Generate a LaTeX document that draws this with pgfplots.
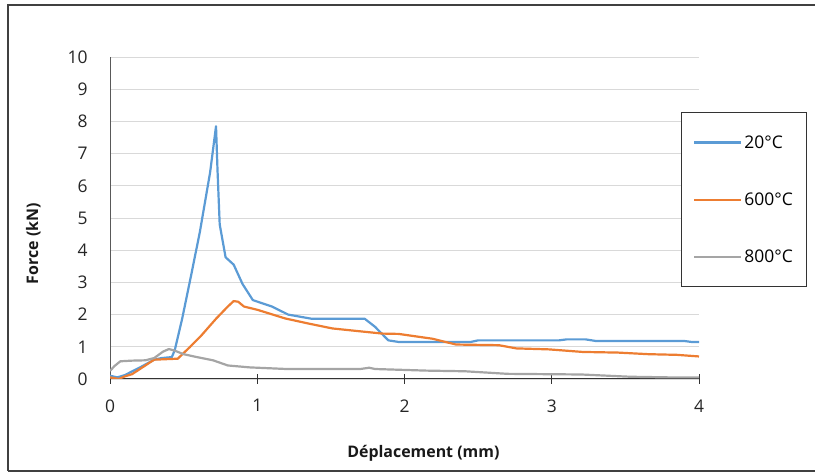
\documentclass[border=0pt]{standalone}
\usepackage{pgfplots}
\pgfplotsset{compat=1.18}
\usepackage{fontspec}
\setmainfont{Open Sans}
\definecolor{cblue}{HTML}{5B9BD5}
\definecolor{corange}{HTML}{ED7D31}
\definecolor{cgray}{HTML}{A5A5A5}
\definecolor{cgrid}{HTML}{D9D9D9}
\definecolor{caxis}{HTML}{595959}
\begin{document}
\begin{tikzpicture}[x=1bp,y=1bp]
\useasboundingbox (0,0) rectangle (815,472);
\draw[line width=1.2bp, color=black!75] (8,1) -- (8,467) -- (815,467);
\draw[line width=1.2bp, color=black!75] (8,1) -- (815,1);
\begin{axis}[
  at={(110bp,93bp)}, anchor=south west,
  scale only axis, width=589bp, height=322bp,
  xmin=0, xmax=4, ymin=0, ymax=10,
  xtick={0,1,2,3,4}, ytick={0,1,...,10},
  axis x line=bottom, axis y line=left,
  axis line style={-, color=caxis, line width=1bp},
  x axis line style={color=black!80},
  ymajorgrids, grid style={color=cgrid, line width=0.9bp},
  tick align=center, major tick length=10bp,
  xtick style={color=black!80, line width=0.9bp},
  ytick style={draw=none},
  tick label style={font=\fontsize{17.5}{20}\selectfont, color=black!85},
  /pgf/number format/assume math mode=true,
  yticklabel style={xshift=-14bp},
  xticklabel style={yshift=-12bp},
  xlabel={\bfseries Déplacement (mm)},
  ylabel={\bfseries Force (kN)},
  label style={font=\fontsize{16}{18}\selectfont, color=black!90},
  xlabel style={at={(axis description cs:0.532,-0.232)}, anchor=center},
  ylabel style={at={(axis description cs:-0.13,0.42)}, anchor=center},
  legend style={at={(0.969,0.829)}, anchor=north west, draw=black!80,
    line width=0.9bp, inner xsep=12bp, inner ysep=21bp,
    font=\fontsize{17.5}{20}\selectfont, row sep=39bp, cells={anchor=west}},
  legend image code/.code={\draw[#1, line width=2.2bp] (0,0) -- (47bp,0);},
  every axis plot/.append style={line width=2.2bp, line join=round},
]
\addplot[cblue] coordinates {
(0,0.1) (0.05,0.05) (0.1,0.12) (0.2,0.35) (0.3,0.6) (0.35,0.65) (0.42,0.68)
(0.44,0.9) (0.49,1.87) (0.55,3.2) (0.61,4.56) (0.68,6.42) (0.72,7.85)
(0.73,6.5) (0.745,4.8) (0.785,3.78) (0.84,3.55) (0.9,2.95) (0.97,2.45)
(1.1,2.25) (1.21,2.0) (1.37,1.87) (1.73,1.87) (1.8,1.62) (1.89,1.2)
(1.96,1.15) (2.3,1.15) (2.45,1.15) (2.5,1.2) (3.05,1.2) (3.1,1.23)
(3.23,1.23) (3.3,1.18) (3.9,1.18) (3.95,1.15) (4.0,1.15)};
\addlegendentry{20°C}
\addplot[corange] coordinates {
(0,0.05) (0.06,0.0) (0.1,0.08) (0.15,0.15) (0.2,0.3) (0.3,0.6) (0.46,0.63)
(0.54,0.98) (0.62,1.35) (0.72,1.87) (0.8,2.25) (0.84,2.42) (0.87,2.4)
(0.91,2.25) (1.0,2.15) (1.19,1.88) (1.35,1.72) (1.51,1.57) (1.7,1.48)
(1.85,1.41) (1.96,1.40) (2.19,1.25) (2.35,1.07) (2.64,1.05) (2.76,0.95)
(2.98,0.92) (3.21,0.84) (3.45,0.82) (3.66,0.77) (3.85,0.75) (4.0,0.70)};
\addlegendentry{600°C}
\addplot[cgray] coordinates {
(0,0.25) (0.03,0.4) (0.07,0.55) (0.15,0.57) (0.24,0.58) (0.3,0.65)
(0.36,0.85) (0.40,0.93) (0.44,0.88) (0.5,0.77) (0.59,0.68) (0.7,0.58)
(0.8,0.42) (0.95,0.36) (1.2,0.31) (1.7,0.31) (1.76,0.35) (1.8,0.31)
(2.15,0.26) (2.41,0.24) (2.7,0.16) (3.2,0.14) (3.53,0.07) (3.8,0.05) (4.0,0.05)};
\addlegendentry{800°C}
\end{axis}
\end{tikzpicture}
\end{document}
